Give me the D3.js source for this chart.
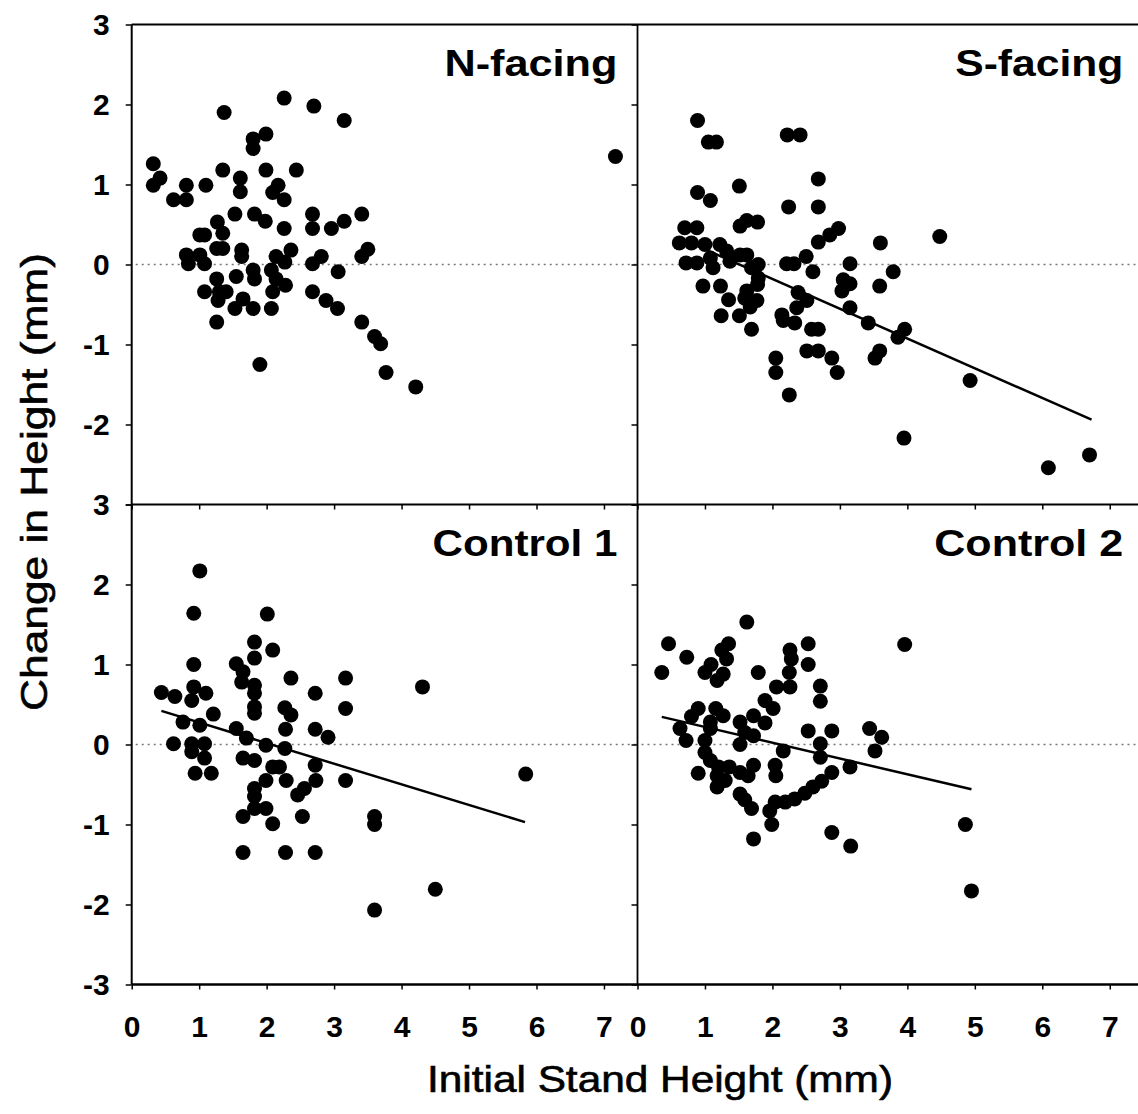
<!DOCTYPE html>
<html>
<head>
<meta charset="utf-8">
<script src="https://cdn.jsdelivr.net/npm/d3@7"></script>
<style>
  body { margin: 0; background: #fff; }
  svg { display: block; }
  .tick text { font-family: "Liberation Sans", Arial, sans-serif; font-weight: bold; font-size: 30px; fill: #000; }
  .domain { display: none; }
  .tick line { stroke: #000; stroke-width: 1.5; }
</style>
</head>
<body>
<svg id="chart" width="1138" height="1114"></svg>
<script>
// values (initial height mm, change mm)
const nFacing = [
  [0.32,1.26],[0.42,1.08],[0.32,0.99],[0.62,0.81],[0.81,0.81],[0.81,0.99],[1.10,0.99],
  [1.37,1.90],[1.35,1.18],[1.61,1.08],[1.61,0.91],[1.80,1.57],[1.80,1.45],[1.99,1.63],
  [1.99,1.18],[2.17,0.99],[2.09,0.90],[2.26,0.81],[2.44,1.18],[2.26,2.08],[2.70,1.98],
  [3.15,1.80],[7.17,1.35],[1.53,0.63],[1.82,0.63],[1.98,0.54],[1.27,0.53],[1.35,0.39],
  [1.01,0.37],[1.08,0.37],[2.26,0.45],[2.68,0.63],[2.68,0.45],[2.96,0.45],[3.15,0.54],
  [3.41,0.63],[3.50,0.19],[3.41,0.10],[2.81,0.10],[2.68,0.01],[3.06,-0.09],[0.81,0.12],
  [0.84,0.01],[1.01,0.12],[1.08,0.01],[1.26,0.20],[1.35,0.20],[1.63,0.18],[1.63,0.10],
  [2.36,0.18],[2.14,0.10],[2.27,0.03],[2.07,-0.07],[1.80,-0.07],[1.26,-0.18],[1.55,-0.15],
  [1.82,-0.18],[2.14,-0.18],[2.28,-0.26],[1.08,-0.34],[1.30,-0.34],[1.28,-0.45],[1.40,-0.34],
  [1.65,-0.43],[1.53,-0.55],[1.80,-0.55],[2.07,-0.55],[2.09,-0.34],[2.68,-0.34],[2.88,-0.45],
  [3.05,-0.55],[1.26,-0.72],[3.41,-0.72],[3.60,-0.90],[3.69,-0.99],[1.90,-1.25],[3.77,-1.35],
  [4.21,-1.53]
];
const sFacing = [
  [0.89,1.80],[1.05,1.53],[1.17,1.53],[2.22,1.62],[2.41,1.62],[2.68,1.07],[1.51,0.98],
  [0.89,0.90],[1.08,0.80],[2.24,0.72],[2.68,0.72],[0.70,0.46],[0.88,0.46],[1.52,0.48],
  [1.62,0.55],[1.78,0.53],[2.98,0.45],[2.85,0.37],[2.68,0.28],[3.60,0.27],[4.48,0.35],
  [0.62,0.27],[0.80,0.27],[1.00,0.25],[1.22,0.25],[1.32,0.17],[1.52,0.12],[1.62,0.12],
  [0.72,0.02],[0.88,0.02],[1.08,0.08],[1.12,-0.04],[1.37,0.04],[1.79,0.00],[1.69,-0.04],
  [2.21,0.01],[2.32,0.01],[2.50,0.10],[2.60,-0.09],[3.15,0.01],[3.79,-0.09],[3.05,-0.19],
  [3.15,-0.24],[3.03,-0.33],[3.59,-0.27],[1.79,-0.17],[1.78,-0.25],[0.97,-0.27],[1.23,-0.27],
  [1.62,-0.33],[1.59,-0.42],[1.35,-0.44],[1.77,-0.45],[1.67,-0.53],[1.24,-0.64],[1.51,-0.64],
  [2.38,-0.35],[2.51,-0.45],[2.36,-0.54],[2.14,-0.63],[2.16,-0.70],[2.33,-0.73],[3.15,-0.54],
  [3.42,-0.73],[3.96,-0.81],[3.86,-0.91],[1.69,-0.81],[2.58,-0.81],[2.68,-0.81],[2.51,-1.08],
  [2.68,-1.08],[2.88,-1.17],[2.96,-1.35],[3.59,-1.08],[3.52,-1.17],[2.05,-1.17],[2.05,-1.35],
  [2.25,-1.63],[4.93,-1.45],[3.95,-2.17],[6.09,-2.54],[6.70,-2.38]
];
const control1 = [
  [1.01,2.17],[0.92,1.64],[2.01,1.63],[1.82,1.28],[2.09,1.18],[1.82,1.08],[0.92,1.00],
  [1.55,1.01],[1.65,0.91],[1.63,0.78],[1.82,0.74],[1.82,0.64],[2.36,0.83],[3.17,0.83],
  [4.31,0.72],[2.72,0.64],[0.44,0.65],[0.64,0.60],[0.92,0.72],[1.10,0.64],[0.89,0.55],
  [1.82,0.47],[1.82,0.39],[2.27,0.46],[2.36,0.37],[3.17,0.45],[1.21,0.38],[0.76,0.28],
  [1.01,0.24],[1.55,0.20],[1.70,0.08],[2.28,0.19],[2.72,0.19],[2.91,0.09],[0.62,0.01],
  [0.89,0.01],[1.08,0.01],[1.99,-0.01],[2.27,-0.05],[0.89,-0.09],[1.08,-0.17],[1.65,-0.17],
  [1.82,-0.20],[2.09,-0.28],[2.19,-0.28],[2.72,-0.26],[0.94,-0.36],[1.18,-0.36],[1.99,-0.45],
  [2.29,-0.45],[2.73,-0.45],[3.17,-0.45],[2.56,-0.55],[1.82,-0.55],[2.46,-0.63],[1.82,-0.65],
  [1.82,-0.80],[1.99,-0.80],[5.84,-0.37],[1.65,-0.90],[2.09,-0.99],[2.53,-0.90],[3.60,-0.90],
  [3.60,-1.00],[1.65,-1.35],[2.28,-1.35],[2.72,-1.35],[4.50,-1.81],[3.60,-2.07]
];
const control2 = [
  [1.62,1.53],[0.46,1.26],[3.96,1.25],[2.53,1.26],[2.53,1.00],[1.35,1.26],[1.25,1.18],
  [1.32,1.07],[0.73,1.09],[0.36,0.90],[1.00,0.90],[1.09,1.00],[1.27,0.88],[1.18,0.80],
  [1.79,0.90],[2.26,1.18],[2.28,1.07],[2.25,0.90],[2.26,0.72],[2.06,0.72],[2.71,0.73],
  [2.71,0.54],[1.89,0.55],[2.01,0.45],[0.90,0.45],[0.80,0.35],[1.16,0.45],[1.27,0.36],
  [1.72,0.36],[1.52,0.28],[1.89,0.27],[0.63,0.20],[1.08,0.28],[1.08,0.20],[1.59,0.15],
  [1.72,0.11],[2.53,0.17],[2.88,0.17],[3.44,0.20],[3.62,0.09],[0.72,0.05],[1.00,0.05],
  [1.52,0.00],[2.16,-0.08],[2.71,0.01],[2.71,-0.16],[3.52,-0.08],[1.00,-0.10],[1.08,-0.20],
  [0.90,-0.36],[1.20,-0.28],[1.36,-0.28],[1.52,-0.35],[1.72,-0.26],[1.64,-0.39],[1.18,-0.39],
  [1.18,-0.53],[1.30,-0.45],[2.04,-0.26],[2.05,-0.39],[2.88,-0.35],[2.73,-0.46],[3.15,-0.28],
  [2.60,-0.53],[2.48,-0.61],[2.33,-0.68],[2.19,-0.72],[2.04,-0.72],[1.96,-0.83],[1.52,-0.62],
  [1.59,-0.69],[1.69,-0.80],[1.99,-1.00],[1.72,-1.18],[2.88,-1.10],[3.16,-1.27],[4.86,-1.00],
  [4.95,-1.83]
];

// fitted lines (two end points each), none drawn for N-facing
const sFacingLine = [[0.73,0.29],[6.73,-1.94]];
const control1Line = [[0.44,0.42],[5.83,-0.97]];
const control2Line = [[0.36,0.345],[4.95,-0.56]];

const panelTitles = ["N-facing","S-facing","Control 1","Control 2"];
const xTicks = [0,1,2,3,4,5,6,7];
const yTicks = [-3,-2,-1,0,1,2,3];

const svg = d3.select("#chart");
const font = '"Liberation Sans", Arial, sans-serif';

const colLeft = [131.7, 637.5];
const rowTop = [24.5, 504.5];
const pw = 506, ph = 480;

const panels = [
  { title: panelTitles[0], pts: nFacing, fit: null, col: 0, row: 0, tw: 173 },
  { title: panelTitles[1], pts: sFacing, fit: sFacingLine, col: 1, row: 0, tw: 168 },
  { title: panelTitles[2], pts: control1, fit: control1Line, col: 0, row: 1, tw: 185 },
  { title: panelTitles[3], pts: control2, fit: control2Line, col: 1, row: 1, tw: 189 }
];

panels.forEach(p => {
  const x = d3.scaleLinear().domain([0, 7.5]).range([colLeft[p.col], colLeft[p.col] + pw]);
  const y = d3.scaleLinear().domain([-3, 3]).range([rowTop[p.row] + ph, rowTop[p.row]]);
  const g = svg.append("g");

  // zero reference line
  g.append("line")
    .attr("x1", x(0) + 4).attr("x2", x(7.5))
    .attr("y1", y(0)).attr("y2", y(0))
    .attr("stroke", "#777").attr("stroke-width", 1.5)
    .attr("stroke-dasharray", "2,4");

  // y axis: labels only on the left column, top panel shows no -3
  const ya = d3.axisLeft(y).tickValues(yTicks).tickSize(6).tickPadding(16);
  if (p.col === 1) ya.tickFormat("");
  else if (p.row === 0) ya.tickFormat(d => d === -3 ? "" : d);
  else ya.tickFormat(d => d);
  g.append("g").attr("transform", `translate(${x(0)},0)`).call(ya);

  // x axis
  const xa = d3.axisBottom(x).tickValues(xTicks).tickSize(5).tickPadding(26);
  if (p.row === 0) xa.tickFormat("");
  g.append("g").attr("transform", `translate(0,${y(-3)})`).call(xa);

  // points
  g.selectAll("circle").data(p.pts).join("circle")
    .attr("cx", d => x(d[0])).attr("cy", d => y(d[1]))
    .attr("r", 7.5).attr("fill", "#000");

  // fitted line
  if (p.fit) {
    g.append("path")
      .attr("d", d3.line().x(d => x(d[0])).y(d => y(d[1]))(p.fit))
      .attr("fill", "none").attr("stroke", "#000").attr("stroke-width", 2.5);
  }

  // panel title
  g.append("text")
    .attr("x", x(7.2)).attr("y", y(3) + 51)
    .attr("text-anchor", "end")
    .attr("font-family", font).attr("font-weight", "bold").attr("font-size", 37)
    .attr("textLength", p.tw).attr("lengthAdjust", "spacingAndGlyphs")
    .text(p.title);
});

// frame lines
const frame = svg.append("g").attr("stroke", "#000").attr("fill", "none");
frame.append("line").attr("x1", colLeft[0]).attr("x2", 1138).attr("y1", rowTop[0]).attr("y2", rowTop[0]).attr("stroke-width", 2);
frame.append("line").attr("x1", colLeft[0]).attr("x2", 1138).attr("y1", rowTop[1]).attr("y2", rowTop[1]).attr("stroke-width", 2);
frame.append("line").attr("x1", colLeft[0]).attr("x2", 1138).attr("y1", rowTop[1] + ph).attr("y2", rowTop[1] + ph).attr("stroke-width", 2.5);
frame.append("line").attr("x1", colLeft[0]).attr("x2", colLeft[0]).attr("y1", rowTop[0]).attr("y2", rowTop[1] + ph).attr("stroke-width", 2);
frame.append("line").attr("x1", colLeft[1]).attr("x2", colLeft[1]).attr("y1", rowTop[0]).attr("y2", rowTop[1] + ph).attr("stroke-width", 1.8);

// axis titles
svg.append("text")
  .attr("x", 660).attr("y", 1092)
  .attr("text-anchor", "middle")
  .attr("font-family", font).attr("font-size", 36)
  .attr("stroke", "#000").attr("stroke-width", 0.6)
  .attr("textLength", 466).attr("lengthAdjust", "spacingAndGlyphs")
  .text("Initial Stand Height (mm)");

svg.append("text")
  .attr("transform", "translate(47,482) rotate(-90)")
  .attr("text-anchor", "middle")
  .attr("font-family", font).attr("font-size", 36)
  .attr("stroke", "#000").attr("stroke-width", 0.6)
  .attr("textLength", 458).attr("lengthAdjust", "spacingAndGlyphs")
  .text("Change in Height (mm)");
</script>
</body>
</html>
